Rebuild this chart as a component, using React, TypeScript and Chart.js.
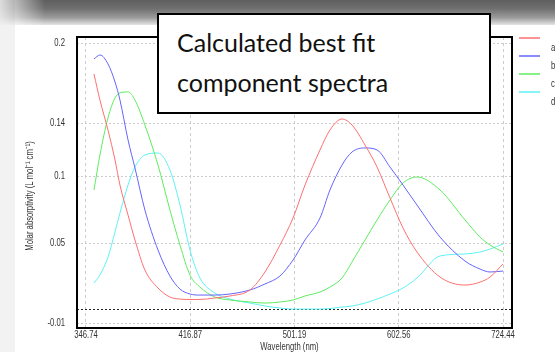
import React, { useEffect, useRef } from "react";
import { Chart, registerables } from "chart.js";

Chart.register(...registerables);

// Wavelength grid (nm) shared by the four fitted component spectra
const wavelengths = [
  351.7, 355.4, 360.5, 365, 368.2, 373.5, 378.1, 384.8, 393.8, 402.2, 409.4, 416.7,
  424.1, 435.5, 447.2, 463.3, 475.7, 488.5, 499.9, 510.6, 524.3, 533.6, 545.1, 554.8,
  567.7, 579.9, 593.3, 607.1, 622.3, 648.1, 677.4, 695.6, 708, 724.4,
];

// Molar absorptivity of each component (L mol-1 cm-1)
const componentA = [
  0.1768, 0.1573, 0.1348, 0.1123, 0.0935, 0.071, 0.0523, 0.0298, 0.0163, 0.0095, 0.008, 0.0077,
  0.0077, 0.0088, 0.0103, 0.0148, 0.0283, 0.0485, 0.0688, 0.0935, 0.1198, 0.1348, 0.143, 0.1385,
  0.1235, 0.107, 0.0838, 0.0613, 0.0433, 0.0245, 0.0185, 0.0207, 0.0245, 0.0343,
];
const componentB = [
  0.188, 0.191, 0.1843, 0.1708, 0.1573, 0.1273, 0.1063, 0.0748, 0.0448, 0.0253, 0.0155, 0.0118,
  0.011, 0.011, 0.0118, 0.0148, 0.0193, 0.0253, 0.0373, 0.0523, 0.0688, 0.0898, 0.1085, 0.1183,
  0.1213, 0.1198, 0.107, 0.0935, 0.0785, 0.0545, 0.0365, 0.0305, 0.0283, 0.029,
];
const componentC = [
  0.0898, 0.116, 0.1438, 0.1588, 0.1625, 0.1633, 0.1573, 0.1385, 0.1085, 0.0748, 0.0485, 0.026,
  0.017, 0.0095, 0.0073, 0.0058, 0.005, 0.0058, 0.0073, 0.0103, 0.0133, 0.017, 0.0238, 0.0358,
  0.0523, 0.0673, 0.0823, 0.095, 0.0995, 0.0898, 0.0673, 0.0545, 0.0485, 0.0433,
];
const componentD = [
  0.02, 0.026, 0.0395, 0.0583, 0.0725, 0.0935, 0.107, 0.116, 0.1175, 0.1048, 0.0785, 0.0448,
  0.0238, 0.0125, 0.008, 0.005, 0.0028, 0.0013, 0.0005, 0.0005, 0.0005, 0.0009, 0.002, 0.0028,
  0.005, 0.008, 0.0118, 0.0163, 0.0238, 0.0403, 0.0418, 0.0433, 0.0455, 0.0493,
];

const seriesNames = ["a", "b", "c", "d"];
const seriesColors = ["#ff6f6f", "#6464ff", "#5fec5f", "#5ff2f2"];

const xTickValues = [346.74, 416.87, 501.19, 602.56, 724.44];
const yTickValues = [-0.01, 0, 0.05, 0.1, 0.14, 0.2];
const yTickLabels = ["-0.01", "", "0.05", "0.1", "0.14", "0.2"];

const xRange = { min: 341.3, max: 736 };
const yRange = { min: -0.0137, max: 0.2045 };

const labelFont = "11px 'Liberation Sans', Arial, sans-serif";
const textColor = "#333333";
const squeeze = 0.7;

// Narrow text, as drawn by the original plotting program
function condensedText(ctx: CanvasRenderingContext2D, text: string, x: number, y: number, align: CanvasTextAlign, angle = 0) {
  ctx.save();
  ctx.translate(x, y);
  if (angle) ctx.rotate(angle);
  ctx.scale(squeeze, 1);
  ctx.textAlign = align;
  ctx.fillText(text, 0, 0);
  ctx.restore();
}

// Frame, tick labels, axis titles and the side legend
const decorations = {
  id: "decorations",
  afterDraw(chart: any) {
    const { ctx, chartArea } = chart;
    const { left, top, right, bottom } = chartArea;
    const xs = chart.scales.x;
    const ys = chart.scales.y;
    ctx.save();
    ctx.strokeStyle = "#000";
    ctx.lineWidth = 2;
    ctx.strokeRect(left, top, right - left, bottom - top);

    ctx.fillStyle = textColor;
    ctx.font = labelFont;
    ctx.textBaseline = "middle";
    xTickValues.forEach((v) => {
      condensedText(ctx, v.toFixed(2), xs.getPixelForValue(v), 335, "center");
    });
    yTickValues.forEach((v, i) => {
      if (yTickLabels[i]) condensedText(ctx, yTickLabels[i], left - 12, ys.getPixelForValue(v), "right");
    });

    condensedText(ctx, "Wavelength (nm)", (left + right) / 2 - 5, 347, "center");
    condensedText(ctx, "Molar absorptivity (L mol\u207B\u00B9 cm\u207B\u00B9)", 30, 196, "center", -Math.PI / 2);

    seriesNames.forEach((name, i) => {
      const y = 38 + i * 18;
      ctx.strokeStyle = seriesColors[i];
      ctx.lineWidth = 1.5;
      ctx.beginPath();
      ctx.moveTo(519, y);
      ctx.lineTo(540, y);
      ctx.stroke();
      ctx.fillStyle = textColor;
      condensedText(ctx, name, 551, y + 10, "left");
    });
    ctx.restore();
  },
};

export default function App() {
  const canvasRef = useRef<HTMLCanvasElement | null>(null);

  useEffect(() => {
    if (!canvasRef.current) return;
    const sets = [componentA, componentB, componentC, componentD];
    const chart = new Chart(canvasRef.current, {
      type: "line",
      data: {
        datasets: sets.map((vals, i) => ({
          label: seriesNames[i],
          data: vals.map((v, j) => ({ x: wavelengths[j], y: v })),
          borderColor: seriesColors[i],
          borderWidth: 1,
          pointRadius: 0,
          cubicInterpolationMode: "monotone" as const,
          fill: false,
        })),
      },
      options: {
        animation: false,
        responsive: false,
        maintainAspectRatio: false,
        layout: { padding: { left: 0, top: 37, right: 43, bottom: 0 } },
        plugins: { legend: { display: false }, tooltip: { enabled: false } },
        scales: {
          x: {
            type: "logarithmic",
            min: xRange.min,
            max: xRange.max,
            afterBuildTicks: (s: any) => {
              s.ticks = xTickValues.map((v) => ({ value: v }));
            },
            afterFit: (s: any) => {
              s.height = 24;
            },
            ticks: { display: false, autoSkip: false },
            grid: { color: "#cccccc", drawTicks: false },
            border: { display: false, dash: [3, 3] },
          },
          y: {
            min: yRange.min,
            max: yRange.max,
            afterBuildTicks: (s: any) => {
              s.ticks = yTickValues.map((v) => ({ value: v }));
            },
            afterFit: (s: any) => {
              s.width = 77;
            },
            ticks: { display: false },
            grid: {
              drawTicks: false,
              color: (c: any) => (c.tick && c.tick.value === 0 ? "#222222" : "#cccccc"),
            },
            border: { display: false, dash: [2, 2] },
          },
        },
      },
      plugins: [decorations],
    });
    return () => chart.destroy();
  }, []);

  return (
    <div
      style={{
        position: "fixed",
        left: 0,
        top: 0,
        width: 555,
        height: 352,
        overflow: "hidden",
        background: "#ffffff",
      }}
    >
      <div style={{ position: "absolute", left: 0, top: 0, width: 15, height: 352, background: "#f2f2f2" }} />
      <canvas ref={canvasRef} width={555} height={352} style={{ position: "absolute", left: 0, top: 0 }} />
      <div
        style={{
          position: "absolute",
          left: 0,
          top: 0,
          width: 555,
          height: 25,
          background: "linear-gradient(to bottom, #5e5e5e 0%, #707070 35%, #9a9a9a 70%, #e4e4e4 100%)",
          WebkitMaskImage: "linear-gradient(to right, rgba(0,0,0,0.15) 0px, #000 45px)",
          maskImage: "linear-gradient(to right, rgba(0,0,0,0.15) 0px, #000 45px)",
        }}
      />
      <div
        style={{
          position: "absolute",
          left: 157,
          top: 13,
          width: 334,
          height: 101,
          boxSizing: "border-box",
          border: "2px solid #000",
          background: "#fff",
          fontFamily: "Lato, 'Open Sans', sans-serif",
          fontSize: 25,
          color: "#111",
        }}
      >
        <div style={{ position: "absolute", left: 18, top: 12, lineHeight: "30px", whiteSpace: "nowrap" }}>
          Calculated best fit
        </div>
        <div style={{ position: "absolute", left: 18, top: 52, lineHeight: "30px", whiteSpace: "nowrap" }}>
          component spectra
        </div>
      </div>
    </div>
  );
}
